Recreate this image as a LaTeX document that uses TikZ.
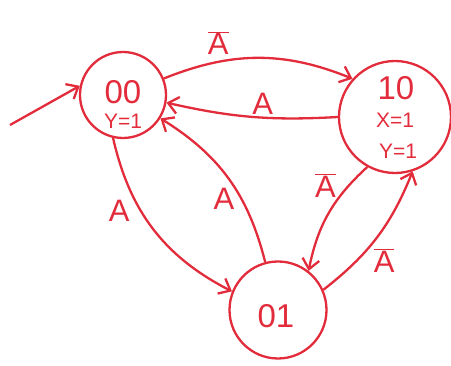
\documentclass[tikz,border=0pt]{standalone}
\usepackage{fontspec}
\setmainfont{Liberation Sans}
\usetikzlibrary{arrows.meta, positioning, calc}
\definecolor{pen}{RGB}{226,44,60}

\newcommand{\nA}{$\overline{\mbox{A}}$}

\begin{document}
\begin{tikzpicture}[x=1pt, y=1pt,
    state/.style={circle, draw=pen, line width=2.3pt, inner sep=0pt},
    codetext/.style={text=pen, font=\fontsize{33}{34}\selectfont, inner sep=0pt},
    outtext/.style={text=pen, font=\fontsize{21}{22}\selectfont, inner sep=0pt},
    arrow/.style={-{Straight Barb[length=10pt, width=17pt]}, draw=pen, line width=2.3pt},
    lbl/.style={text=pen, font=\fontsize{31}{32}\selectfont, inner sep=2pt}
]
\useasboundingbox (0,0) rectangle (451,-366);

% states
\node[state, minimum size=86pt] (s00) at (123,-95) {};
\node[state, minimum size=112pt] (s10) at (395,-117) {};
\node[state, minimum size=97pt] (s01) at (278,-310) {};

% state codes and outputs
\node[codetext] (c00) at (123,-92) {00};
\node[outtext] (y00) at (123,-121) {Y=1};
\node[codetext] (c10) at (396,-88) {10};
\node[outtext] (x10) at (395,-120) {X=1};
\node[outtext] (y10) at (398,-151) {Y=1};
\node[codetext] (c01) at (276,-316) {01};

% start
\coordinate (start) at (10,-125);
\draw[arrow] (start) -- (s00.168);

% transitions
\draw[arrow] (s00.22) to[bend left=22] node[lbl, above=4pt, pos=0.28] {\nA} (s10.138);
\draw[arrow] (s10.180) to[bend left=8] node[lbl, above, pos=0.43] {A} (s00.-10);
\draw[arrow] (s00.-103) to[bend right=25] node[lbl, left=8pt, pos=0.38] {A} (s01.158);
\draw[arrow] (s01.105) to[bend right=22] node[lbl, left=4pt, pos=0.36] {A} (s00.-32);
\draw[arrow] (s10.-119) to[bend right=18] node[lbl, left=10pt, pos=0.2] {\nA} (s01.52);
\draw[arrow] (s01.24) to[bend right=15] node[lbl, right=14pt, pos=0.28] {\nA} (s10.-72);
\end{tikzpicture}
\end{document}
